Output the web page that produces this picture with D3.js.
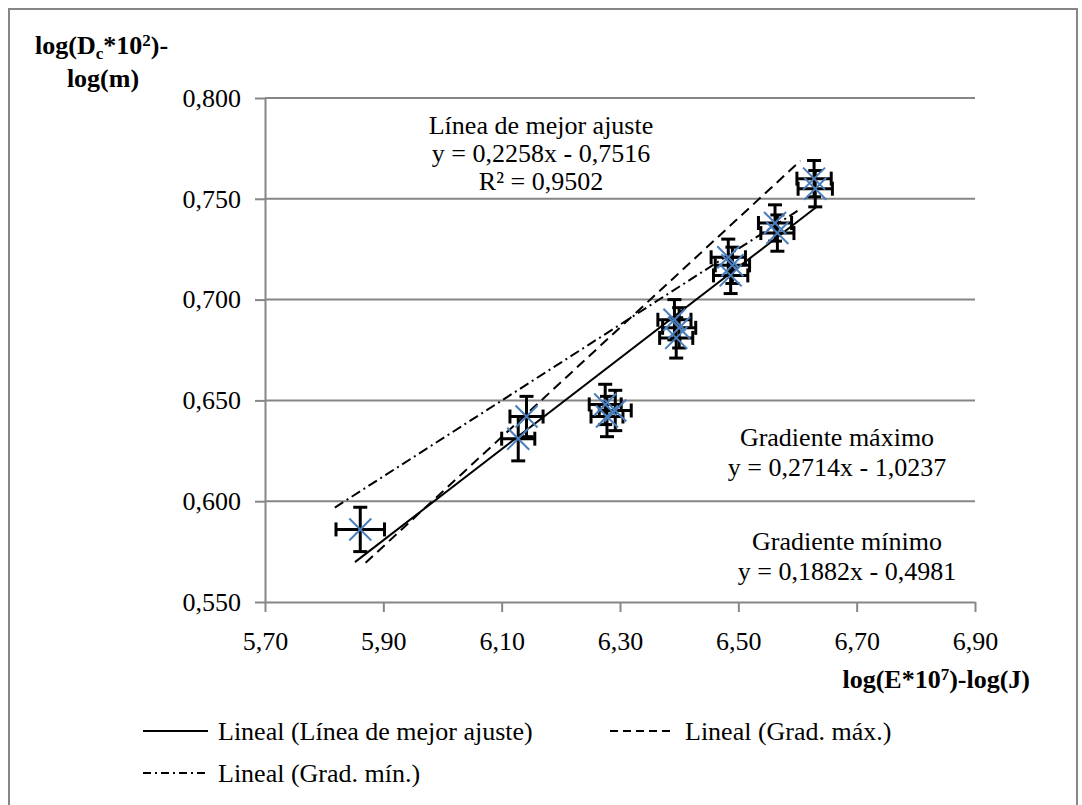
<!DOCTYPE html>
<html><head><meta charset="utf-8">
<script src="https://cdn.jsdelivr.net/npm/d3@7"></script>
<style>
body{margin:0;background:#fff;}
text{font-family:"Liberation Serif","Times New Roman",serif;fill:#000;}
</style></head>
<body><svg id="chart" width="1082" height="805"></svg>
<script>
// ---- data ----
const xValues = [5.861, 6.128, 6.142, 6.275, 6.292, 6.278, 6.392, 6.400, 6.395, 6.483, 6.490, 6.487, 6.562, 6.566, 6.628, 6.630];
const yValues = [0.586, 0.631, 0.642, 0.648, 0.645, 0.642, 0.690, 0.686, 0.681, 0.721, 0.717, 0.712, 0.738, 0.733, 0.760, 0.755];
const xErrors = [0.041, 0.028, 0.028, 0.027, 0.027, 0.027, 0.028, 0.028, 0.028, 0.029, 0.029, 0.029, 0.028, 0.028, 0.029, 0.029];
const yErrors = [0.011, 0.011, 0.010, 0.010, 0.010, 0.010, 0.010, 0.010, 0.010, 0.009, 0.009, 0.009, 0.009, 0.009, 0.009, 0.009];

const lineNames = ["Lineal (Línea de mejor ajuste)", "Lineal (Grad. máx.)", "Lineal (Grad. mín.)"];
const lineSlopes = [0.2258, 0.2714, 0.1882];
const lineIntercepts = [-0.7516, -1.0237, -0.4981];
const lineXStart = [5.852, 5.870, 5.818];
const lineXEnd = [6.632, 6.605, 6.600];

const xTicks = [5.70, 5.90, 6.10, 6.30, 6.50, 6.70, 6.90];
const yTicks = [0.550, 0.600, 0.650, 0.700, 0.750, 0.800];

const annotBest = ["Línea de mejor ajuste", "y = 0,2258x - 0,7516", "R² = 0,9502"];
const annotMax = ["Gradiente máximo", "y = 0,2714x - 1,0237"];
const annotMin = ["Gradiente mínimo", "y = 0,1882x - 0,4981"];

// ---- drawing ----
const svg = d3.select("#chart");
const gray = "#868686";
const FS = 26;
const plot = {left: 265, right: 975, top: 98, bottom: 602};

const x = d3.scaleLinear().domain([5.70, 6.90]).range([plot.left, plot.right]);
const y = d3.scaleLinear().domain([0.55, 0.80]).range([plot.bottom, plot.top]);
const fmt = (d, n) => d.toFixed(n).replace(".", ",");

// outer border
svg.append("rect").attr("x", 9).attr("y", 9).attr("width", 1068).attr("height", 800)
  .attr("fill", "none").attr("stroke", gray).attr("stroke-width", 2);

// gridlines
svg.append("g").selectAll("line").data(yTicks.slice(1)).join("line")
  .attr("x1", plot.left).attr("x2", plot.right)
  .attr("y1", d => y(d)).attr("y2", d => y(d))
  .attr("stroke", gray).attr("stroke-width", 2);

// y axis
const yAxis = d3.axisLeft(y).tickValues(yTicks).tickSize(10).tickSizeOuter(0).tickPadding(14)
  .tickFormat(d => fmt(d, 3));
const gy = svg.append("g").attr("transform", `translate(${plot.left},0)`).call(yAxis);
gy.attr("font-family", null);
gy.select(".domain").attr("stroke", gray).attr("stroke-width", 2);
gy.selectAll(".tick line").attr("stroke", gray).attr("stroke-width", 2);
gy.selectAll(".tick text").attr("font-size", FS).attr("fill", "#000");

// x axis
const xAxis = d3.axisBottom(x).tickValues(xTicks).tickSize(10).tickSizeOuter(0).tickPadding(20)
  .tickFormat(d => fmt(d, 2));
const gx = svg.append("g").attr("transform", `translate(0,${plot.bottom})`).call(xAxis);
gx.attr("font-family", null);
gx.select(".domain").attr("stroke", gray).attr("stroke-width", 2);
gx.selectAll(".tick line").attr("stroke", gray).attr("stroke-width", 2);
gx.selectAll(".tick text").attr("font-size", FS).attr("fill", "#000");

// trend lines
const dashes = [null, "10,6", "10,4,2,4"];
const lineIdx = d3.range(lineNames.length);
svg.append("g").selectAll("line").data(lineIdx).join("line")
  .attr("x1", i => x(lineXStart[i])).attr("x2", i => x(lineXEnd[i]))
  .attr("y1", i => y(lineSlopes[i] * lineXStart[i] + lineIntercepts[i]))
  .attr("y2", i => y(lineSlopes[i] * lineXEnd[i] + lineIntercepts[i]))
  .attr("stroke", "#000").attr("stroke-width", 2)
  .attr("stroke-dasharray", i => dashes[i]);

// points
const pts = d3.range(xValues.length).map(i => ({x: xValues[i], y: yValues[i], ex: xErrors[i], ey: yErrors[i]}));
const eb = svg.append("g").attr("stroke", "#000").attr("stroke-width", 3);
const cap = 7;
pts.forEach(p => {
  const cx = x(p.x), cy = y(p.y);
  const x0 = x(p.x - p.ex), x1 = x(p.x + p.ex), y0 = y(p.y + p.ey), y1 = y(p.y - p.ey);
  eb.append("line").attr("x1", x0).attr("x2", x1).attr("y1", cy).attr("y2", cy);
  eb.append("line").attr("x1", x0).attr("x2", x0).attr("y1", cy - cap).attr("y2", cy + cap);
  eb.append("line").attr("x1", x1).attr("x2", x1).attr("y1", cy - cap).attr("y2", cy + cap);
  eb.append("line").attr("x1", cx).attr("x2", cx).attr("y1", y0).attr("y2", y1);
  eb.append("line").attr("x1", cx - cap).attr("x2", cx + cap).attr("y1", y0).attr("y2", y0);
  eb.append("line").attr("x1", cx - cap).attr("x2", cx + cap).attr("y1", y1).attr("y2", y1);
});
const mk = svg.append("g").attr("stroke", "#4a7ebb").attr("stroke-width", 2);
const ms = 11;
pts.forEach(p => {
  const cx = x(p.x), cy = y(p.y);
  mk.append("line").attr("x1", cx - ms).attr("x2", cx + ms).attr("y1", cy - ms).attr("y2", cy + ms);
  mk.append("line").attr("x1", cx - ms).attr("x2", cx + ms).attr("y1", cy + ms).attr("y2", cy - ms);
});

// annotations
function block(lines, cx, y0, step) {
  svg.append("g").selectAll("text").data(lines).join("text")
    .attr("x", cx).attr("y", (d, i) => y0 + i * step)
    .attr("text-anchor", "middle").attr("font-size", FS).text(d => d);
}
block(annotBest, 541, 134, 28);
block(annotMax, 837, 446, 30);
block(annotMin, 847, 550, 30);

// y title
const yt = svg.append("text").attr("x", 35).attr("y", 54).attr("font-size", FS).attr("font-weight", "bold");
yt.append("tspan").text("log(D");
yt.append("tspan").attr("dy", 5).attr("font-size", 17).text("c");
yt.append("tspan").attr("dy", -5).text("*10");
yt.append("tspan").attr("dy", -8).attr("font-size", 17).text("2");
yt.append("tspan").attr("dy", 8).text(")-");
svg.append("text").attr("x", 103).attr("y", 87).attr("text-anchor", "middle")
  .attr("font-size", FS).attr("font-weight", "bold").text("log(m)");

// x title
const xt = svg.append("text").attr("x", 1030).attr("y", 688).attr("text-anchor", "end")
  .attr("font-size", FS).attr("font-weight", "bold");
xt.append("tspan").text("log(E*10");
xt.append("tspan").attr("dy", -8).attr("font-size", 17).text("7");
xt.append("tspan").attr("dy", 8).text(")-log(J)");

// legend
const legX = [143, 610, 143], legY = [731, 731, 773];
const lg = svg.append("g");
lineIdx.forEach(i => {
  lg.append("line").attr("x1", legX[i]).attr("x2", legX[i] + 65)
    .attr("y1", legY[i]).attr("y2", legY[i]).attr("stroke", "#000").attr("stroke-width", 2)
    .attr("stroke-dasharray", i === 1 ? "8,5" : i === 2 ? "8,4,2,4" : null);
  lg.append("text").attr("x", legX[i] + 75).attr("y", legY[i] + 9).attr("font-size", FS).text(lineNames[i]);
});
</script></body></html>
